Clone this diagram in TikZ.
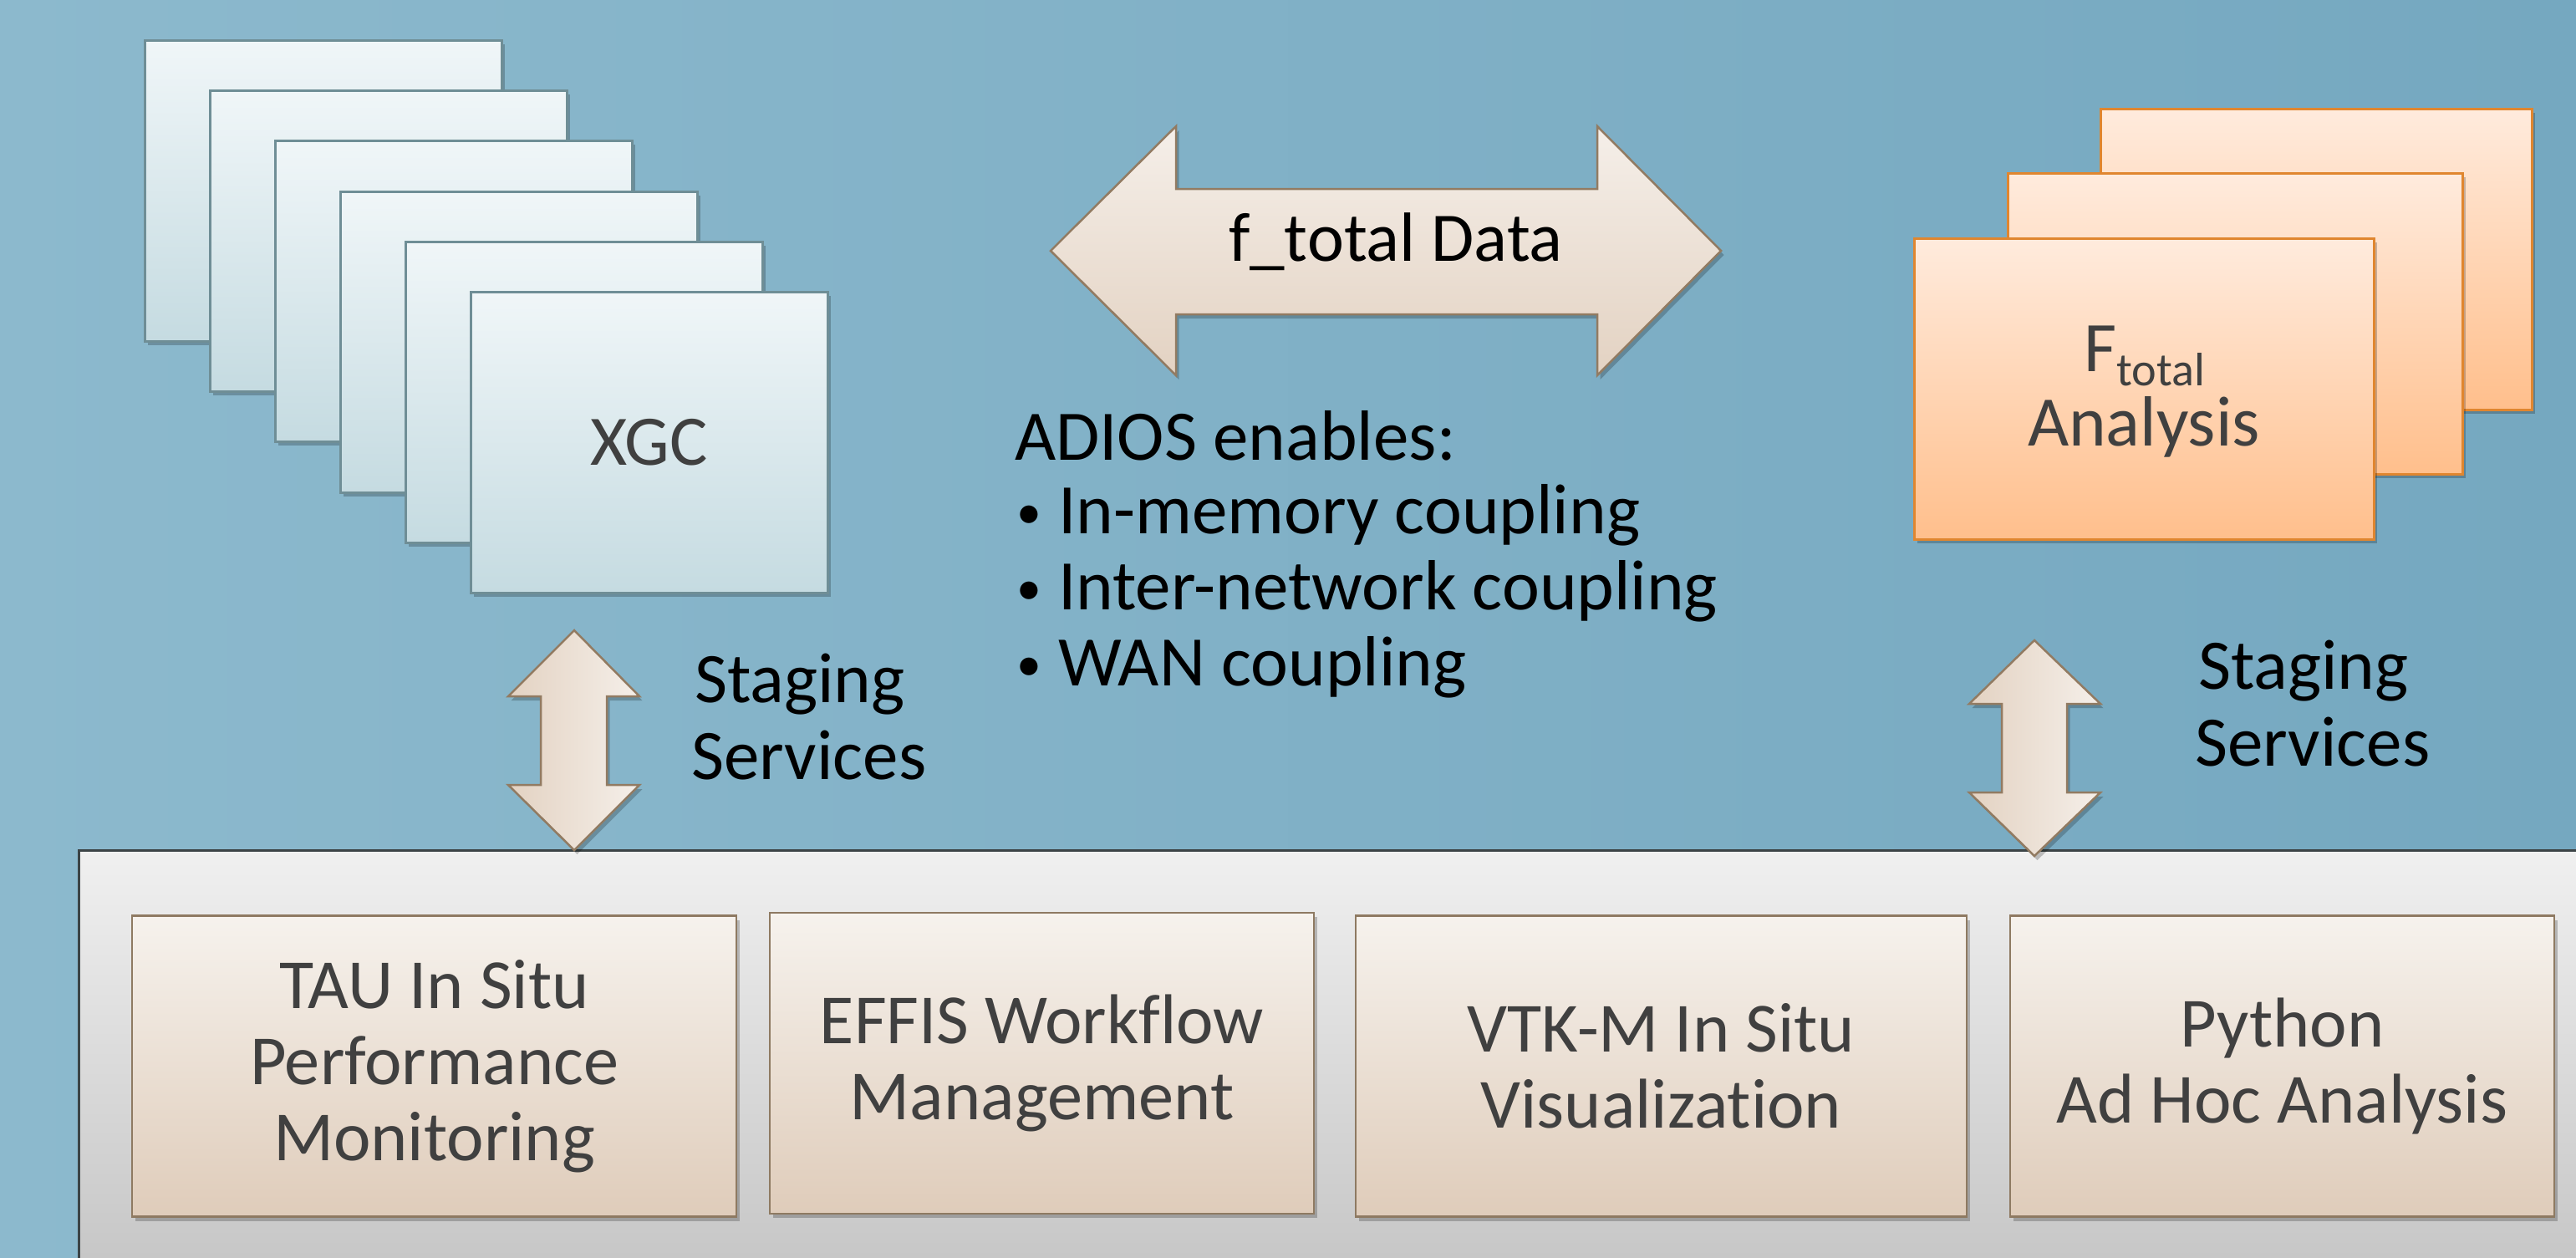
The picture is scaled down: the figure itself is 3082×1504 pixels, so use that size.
\documentclass[tikz,border=0pt]{standalone}
\usepackage{fontspec}
\setmainfont{Carlito}[Ligatures=NoCommon]
\usetikzlibrary{shadows}
\definecolor{bgL}{HTML}{8CB9CD}
\definecolor{bgR}{HTML}{75A8C0}
\definecolor{xgcT}{HTML}{F0F6F8}
\definecolor{xgcBot}{HTML}{C5DBE1}
\definecolor{xgcBorder}{HTML}{6F8E96}
\definecolor{orT}{HTML}{FFEBDD}
\definecolor{orB}{HTML}{FFBF8C}
\definecolor{orBorder}{HTML}{E0862F}
\definecolor{arT}{HTML}{F5EFE9}
\definecolor{arB}{HTML}{E3D2C2}
\definecolor{arBorder}{HTML}{927B62}
\definecolor{pnT}{HTML}{F0F0F0}
\definecolor{pnB}{HTML}{C4C4C4}
\definecolor{pnBorder}{HTML}{3C4446}
\definecolor{bxT}{HTML}{F6F2ED}
\definecolor{bxB}{HTML}{DFCCBA}
\definecolor{bxBorder}{HTML}{8E7A62}
\definecolor{txt}{HTML}{404040}
\tikzset{
  softshadow/.style={drop shadow={shadow xshift=0.35mm, shadow yshift=-0.5mm, opacity=0.22, fill=black}},
  bigfont/.style={font=\fontsize{24.2}{26}\selectfont},
  xgcbox/.style={draw=xgcBorder, line width=0.3mm, top color=xgcT, bottom color=xgcBot,
    minimum width=42.7mm, minimum height=36mm, inner sep=0pt, outer sep=0pt, anchor=north west, softshadow},
  orbox/.style={draw=orBorder, line width=0.3mm, top color=orT, bottom color=orB,
    minimum height=36mm, inner sep=0pt, outer sep=0pt, anchor=north west, softshadow},
  toolbox/.style={draw=bxBorder, line width=0.25mm, top color=bxT, bottom color=bxB,
    minimum height=36mm, inner sep=0pt, outer sep=0pt, align=center, text=txt,
    font=\fontsize{24}{25.9}\selectfont, softshadow},
  harrow/.style={draw=arBorder, line width=0.25mm, top color=arT, bottom color=arB, line join=miter, softshadow},
  varrow/.style={draw=arBorder, line width=0.25mm, left color=arB, right color=arT, line join=miter, softshadow},
  label/.style={inner sep=0pt, outer sep=0pt, text=black, bigfont},
  bullet/.style={inner sep=0pt, outer sep=0pt, text=black, font=\fontsize{17}{20}\selectfont},
}
\begin{document}
\begin{tikzpicture}[x=0.1mm, y=-0.1mm]
\useasboundingbox (0,0) rectangle (3082,1504);
\begin{scope}
\clip (0,0) rectangle (3082,1504);
\shade[left color=bgL, right color=bgR] (0,0) rectangle (3082,1504);

% XGC stack
\node[xgcbox] (x0) at (173,48) {};
\node[xgcbox] (x1) at (251,108) {};
\node[xgcbox] (x2) at (329,168) {};
\node[xgcbox] (x3) at (407,229) {};
\node[xgcbox] (x4) at (485,289) {};
\node[xgcbox, text=txt, bigfont] (xgc) at (563,349) {XGC};

% Analysis stack
\node[orbox, minimum width=51.6mm] (o0) at (2513,130) {};
\node[orbox, minimum width=54.4mm] (o1) at (2402,207) {};
\node[orbox, minimum width=55mm] (ana) at (2290,285) {};
\node[label, text=txt, anchor=base] (ftl) at (2566,444)
  {F\raisebox{-0.2em}{\fontsize{16}{16}\selectfont total}};
\node[label, text=txt, anchor=base] (anl) at (2565,533) {Analysis};

% bottom panel
\path[draw=pnBorder, line width=0.3mm, top color=pnT, bottom color=pnB, softshadow]
  (94,1017) rectangle (3120,1540);

% tool boxes
\node[toolbox, minimum width=72.3mm] (tau) at (519.5,1275.5) {TAU In Situ\\Performance\\Monitoring};
\node[toolbox, minimum width=65.1mm] (effis) at (1246.5,1272) {EFFIS Workflow\\Management};
\node[toolbox, minimum width=73.1mm] (vtk) at (1987.5,1275.5) {VTK-M In Situ\\Visualization};
\node[toolbox, minimum width=65.1mm] (py) at (2730.5,1275.5) {Python\\Ad Hoc Analysis};

% horizontal double arrow
\path[harrow] (1257,300) -- (1407,151) -- (1407,226) -- (1911,226) -- (1911,151) -- (2059,300)
  -- (1911,449) -- (1911,376) -- (1407,376) -- (1407,449) -- cycle;
\node[inner sep=0pt, anchor=base, text=black, font=\fontsize{23.7}{26}\selectfont] (ftot) at (1670,312) {f\_total Data};

% vertical double arrows
\path[varrow] (687,754) -- (765,833) -- (726,833) -- (726,939) -- (765,939) -- (687,1017)
  -- (608,939) -- (647,939) -- (647,833) -- (608,833) -- cycle;
\path[varrow] (2434,766) -- (2513,842) -- (2473,842) -- (2473,948) -- (2513,948) -- (2434,1024)
  -- (2356,948) -- (2395,948) -- (2395,842) -- (2356,842) -- cycle;

% ADIOS text
\node[label, anchor=base west] (ad0) at (1214,550) {ADIOS enables:};
\node[bullet, anchor=base west] (b1) at (1216,632) {•};
\node[label, anchor=base west] (ad1) at (1266,638) {In-memory coupling};
\node[bullet, anchor=base west] (b2) at (1216,723) {•};
\node[label, anchor=base west] (ad2) at (1266,729) {Inter-network coupling};
\node[bullet, anchor=base west] (b3) at (1216,814) {•};
\node[label, anchor=base west] (ad3) at (1266,820) {WAN coupling};

% Staging services labels
\node[label, anchor=base west] (sl1) at (831,840) {Staging};
\node[label, anchor=base west] (sl2) at (827,932) {Services};
\node[label, anchor=base west] (sr1) at (2630,824) {Staging};
\node[label, anchor=base west] (sr2) at (2626,916) {Services};
\end{scope}
\end{tikzpicture}
\end{document}
